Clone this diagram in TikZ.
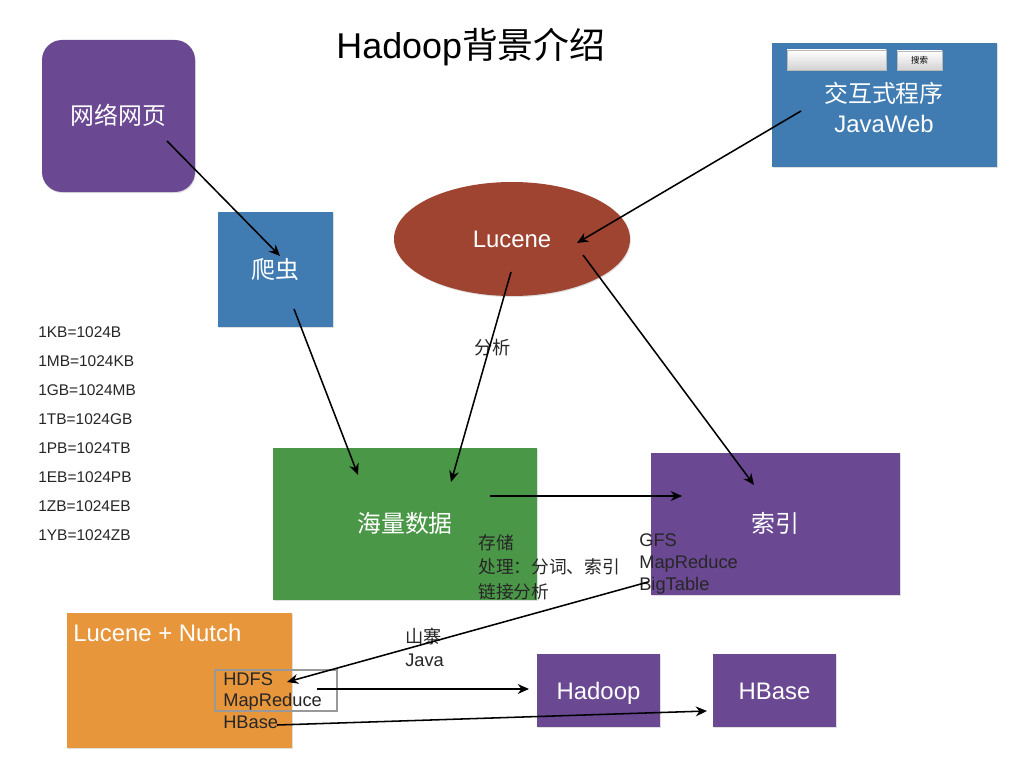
\documentclass[tikz,border=0pt]{standalone}
\usepackage{fontspec}
\setmainfont{Liberation Sans}
\newfontfamily\cjk{Noto Sans CJK SC}
\usetikzlibrary{%
  arrows.meta,%
  shapes.geometric,%
  shadows,%
  positioning%
}
\definecolor{hpurple}{RGB}{106,72,146}
\definecolor{hblue}{RGB}{64,124,178}
\definecolor{hred}{RGB}{160,68,50}
\definecolor{hgreen}{RGB}{75,151,72}
\definecolor{horange}{RGB}{232,150,60}

\begin{document}
\begin{tikzpicture}[x=0.025cm,y=-0.025cm,
    card/.style={text=white,inner sep=0pt,text height=12.5pt,text depth=0pt,
      font=\fontsize{17}{22}\selectfont,
      drop shadow={opacity=0.25,shadow xshift=0.6pt,shadow yshift=-0.8pt}},
    cardsize/.style 2 args={minimum width=#1*0.025cm,minimum height=#2*0.025cm},
    note/.style={anchor=west,inner sep=0pt,align=left,text=black!85,
      font=\fontsize{13}{17}\selectfont},
    field/.style={draw=gray!55,top color=white,bottom color=gray!35,inner sep=0pt},
    link/.style={line width=1.1pt,-{Stealth[length=8pt,width=7pt]}}
  ]
  \fill[white] (0,0) rectangle (1024,768);
  \useasboundingbox (0,0) rectangle (1024,768);

  % title
  \node[inner sep=0pt,font=\fontsize{25.5}{30}\selectfont] (title) at (471,47)
    {Hadoop{\cjk 背景介绍}};

  % sources
  \node[card,fill=hpurple,rounded corners=0.5cm,cardsize={153}{152}] (pages)
    at (118.5,116) {\cjk 网络网页};
  \node[card,fill=hblue,cardsize={115}{115}] (spider) at (275.5,269.5) {\cjk 爬虫};
  \node[card,fill=hred,ellipse,cardsize={236}{114}] (lucene) at (512,239) {Lucene};

  \node[card,fill=hblue,cardsize={225}{124}] (app) at (884.5,105) {};
  \node[field,cardsize={99}{20}] (searchfield) at (836.5,60) {};
  \node[field,cardsize={45}{19},text=black,font=\cjk\fontsize{6}{7}\selectfont]
    (searchbtn) at (919.5,60.5) {搜索};
  \node[text=white,inner sep=0pt,align=center,font=\fontsize{17}{22}\selectfont]
    (apptext) at (884,107.5) {{\cjk 交互式程序}\\JavaWeb};

  % storage and index
  \node[card,fill=hgreen,cardsize={264}{152}] (data) at (405,524) {\cjk 海量数据};
  \node[card,fill=hpurple,cardsize={249}{142}] (index) at (775.5,524) {\cjk 索引};

  % bottom row
  \node[card,fill=horange,cardsize={225}{135}] (nutch) at (179.5,680.5) {};
  \node[text=white,inner sep=0pt,anchor=west,font=\fontsize{17}{22}\selectfont]
    (nutchtitle) at (73,633) {Lucene + Nutch};
  \node[note,anchor=base west] (hdfs) at (223,685) {HDFS};
  \node[note,anchor=base west] (mapred) at (223,706.5) {MapReduce};
  \node[note,anchor=base west] (hbaseitem) at (223,728.5) {HBase};
  \node[draw=gray!80,line width=1.3pt,cardsize={122}{41},inner sep=0pt] (stackbox)
    at (276,690.5) {};
  \node[card,fill=hpurple,cardsize={123}{73}] (hadoop) at (598.5,690.5) {Hadoop};
  \node[card,fill=hpurple,cardsize={123}{73}] (hbase) at (774.5,690.5) {HBase};

  % units
  \foreach \unit [count=\i] in {1KB=1024B,1MB=1024KB,1GB=1024MB,1TB=1024GB,
      1PB=1024TB,1EB=1024PB,1ZB=1024EB,1YB=1024ZB}
    \node[note,font=\fontsize{11}{13}\selectfont] (unit\i) at (38,303+29*\i) {\unit};

  % labels
  \node[note,font=\cjk\fontsize{13}{17}\selectfont] (analyse) at (474,348) {分析};
  \node[note,font=\cjk\fontsize{12.6}{17.4}\selectfont] (datanote) at (478,567)
    {存储\\处理：分词、索引\\链接分析};
  \node[note,font=\fontsize{13}{15.6}\selectfont] (gfsnote) at (639,564)
    {GFS\\MapReduce\\BigTable};
  \node[note,font=\fontsize{13}{16.3}\selectfont] (copycat) at (405,647.5)
    {{\cjk 山寨}\\Java};

  % links
  \draw[link] ([shift={(48.5,25)}]pages.center) -- ([shift={(4.5,-13.5)}]spider.center);
  \draw[link] ([shift={(-83.5,6)}]app.center) -- ([shift={(65,4)}]lucene.center);
  \draw[link] ([shift={(18.5,39.5)}]spider.center) -- ([shift={(-47,-49)}]data.center);
  \draw[link] ([shift={(-1,33)}]lucene.center) -- ([shift={(46,-42)}]data.center);
  \draw[link] ([shift={(71,16)}]lucene.center) -- ([shift={(-21.5,-39)}]index.center);
  \draw[link] ([shift={(85,-28)}]data.center) -- ([shift={(-93.5,-28)}]index.center);
  \draw[link] ([shift={(9,18)}]gfsnote.west) -- ([shift={(64,-3)}]hdfs.base west);
  \draw[link] ([shift={(41,-1.5)}]stackbox.center) -- ([shift={(-69.5,-1.5)}]hadoop.center);
  \draw[link] ([shift={(54,-3.5)}]hbaseitem.base west) -- ([shift={(-67.5,20.5)}]hbase.center);
\end{tikzpicture}
\end{document}
